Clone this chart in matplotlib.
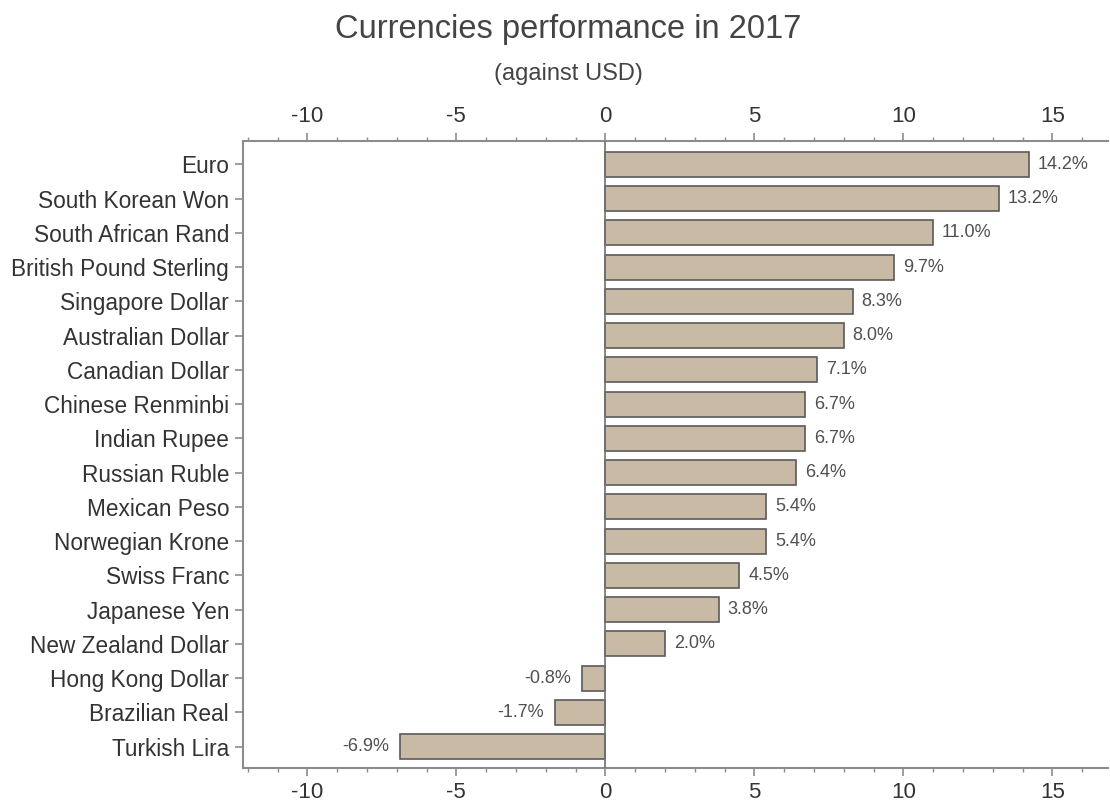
import matplotlib
matplotlib.use("Agg")
import matplotlib.pyplot as plt
from matplotlib.ticker import MultipleLocator

plt.rcParams["font.family"] = ["Liberation Sans", "DejaVu Sans"]
plt.rcParams["axes.unicode_minus"] = False

currencies = [
    "Euro", "South Korean Won", "South African Rand", "British Pound Sterling",
    "Singapore Dollar", "Australian Dollar", "Canadian Dollar", "Chinese Renminbi",
    "Indian Rupee", "Russian Ruble", "Mexican Peso", "Norwegian Krone",
    "Swiss Franc", "Japanese Yen", "New Zealand Dollar", "Hong Kong Dollar",
    "Brazilian Real", "Turkish Lira",
]
change = [14.2, 13.2, 11.0, 9.7, 8.3, 8.0, 7.1, 6.7, 6.7, 6.4,
          5.4, 5.4, 4.5, 3.8, 2.0, -0.8, -1.7, -6.9]

BAR = "#c9baa5"
EDGE = "#5a5a5a"
SPINE = "#8c8c8c"

fig = plt.figure(figsize=(11.1, 8.05), dpi=100)
ax = fig.add_axes([0.2189, 0.0456, 0.7791, 0.7792])

pos = list(range(len(currencies)))
ax.barh(pos, change, height=0.73, color=BAR, edgecolor=EDGE, linewidth=1.2, zorder=2)
ax.axvline(0, color="#707070", lw=1.2, zorder=3)

# value labels beside each bar
for p, v in zip(pos, change):
    if v >= 0:
        ax.text(v + 0.3, p, f"{v:.1f}%", va="center", ha="left",
                fontsize=13, color="#505050")
    else:
        ax.text(v - 0.35, p, f"{v:.1f}%", va="center", ha="right",
                fontsize=13, color="#505050")

ax.set_xlim(-12.16, 16.86)
ax.set_ylim(17.63, -0.68)
ax.set_yticks(pos)
ax.set_yticklabels(currencies)
ax.xaxis.set_major_locator(MultipleLocator(5))
ax.xaxis.set_minor_locator(MultipleLocator(1))
ax.tick_params(axis="x", which="both", top=True, labeltop=True, direction="out",
               color=SPINE, labelcolor="#333333", labelsize=16)
ax.tick_params(axis="x", which="major", length=6, width=1.2, pad=4)
ax.tick_params(axis="x", which="minor", length=3, width=1.0)
ax.tick_params(axis="y", direction="out", length=6, width=1.2, color=SPINE,
               labelcolor="#333333", labelsize=16.3, pad=4)

for side in ["left", "top", "bottom"]:
    ax.spines[side].set_color(SPINE)
    ax.spines[side].set_linewidth(1.5)
ax.spines["right"].set_visible(False)

fig.text(0.512, 0.953, "Currencies performance in 2017", ha="center", va="baseline",
         fontsize=23.5, color="#444444")
fig.text(0.512, 0.901, "(against USD)", ha="center", va="baseline",
         fontsize=17, color="#444444")

fig.savefig("out.png", dpi=100)
